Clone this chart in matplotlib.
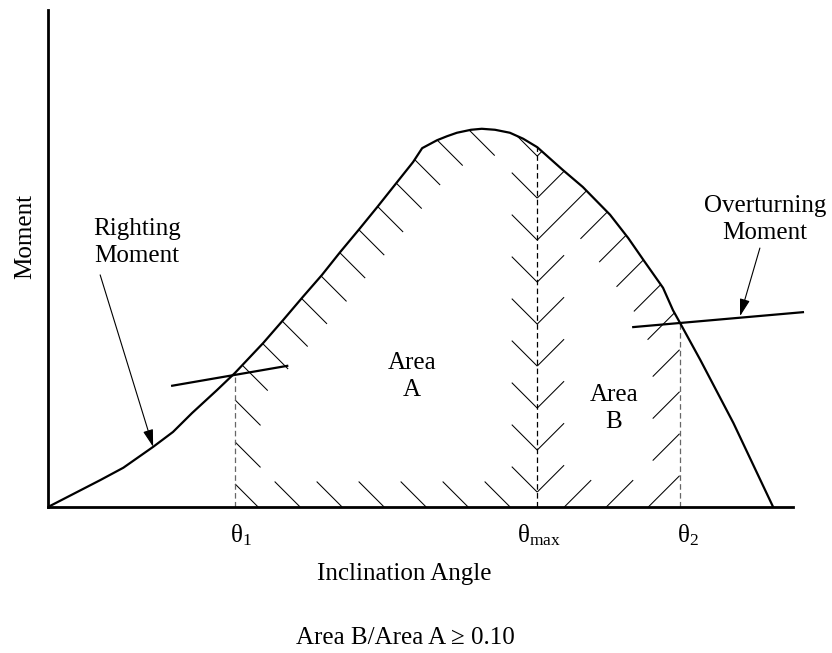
import numpy as np
import matplotlib
matplotlib.use("Agg")
import matplotlib.pyplot as plt
from matplotlib.collections import LineCollection

# ---------------- data ----------------
# righting moment curve: inclination angle (deg) vs moment (arbitrary units)
angle = [0.0, 6.3, 9.1, 12.7, 15.1, 17.4, 20.4, 22.6, 26.0, 28.4, 30.8, 33.1,
         35.3, 37.5, 39.8, 41.9, 44.1, 45.2, 47.0, 48.2, 49.4, 51.1, 52.4,
         54.0, 55.8, 57.4, 59.1, 62.2, 64.6, 67.9, 70.1, 72.1, 74.3, 75.5,
         76.3, 78.8, 82.8, 87.6]
moment = [0.0, 5.4, 7.9, 12.1, 15.1, 18.9, 23.5, 27.0, 33.0, 37.6, 42.3, 46.7,
          51.3, 55.7, 60.4, 64.8, 69.4, 72.2, 73.8, 74.6, 75.3, 75.9, 76.1,
          75.9, 75.3, 74.1, 72.4, 67.8, 64.4, 58.8, 54.1, 49.3, 44.1, 39.6,
          37.2, 29.6, 16.9, 0.0]

theta_1 = 22.6
theta_max = 59.1
theta_2 = 76.3

# overturning (heeling) moment line pieces
heel1_angle = [15.0, 28.9]
heel1_moment = [24.4, 28.4]
heel2_angle = [70.7, 91.2]
heel2_moment = [36.2, 39.2]

# ---------------- style ----------------
plt.rcParams['font.family'] = ['Liberation Serif', 'DejaVu Serif']
plt.rcParams['mathtext.fontset'] = 'custom'
plt.rcParams['mathtext.rm'] = 'Liberation Serif'
plt.rcParams['mathtext.it'] = 'Liberation Serif:italic'
plt.rcParams['lines.scale_dashes'] = False

W, H = 832, 653
fig = plt.figure(figsize=(W / 100, H / 100), dpi=100)
ax = fig.add_axes([48 / W, (H - 507) / H, 745 / W, 497 / H])
ax.set_xlim(0, 90)
ax.set_ylim(0, 100)
ax.set_xticks([])
ax.set_yticks([])
for s in ['top', 'right']:
    ax.spines[s].set_visible(False)
for s in ['left', 'bottom']:
    ax.spines[s].set_linewidth(2.0)

FS = 18
LS = 1.3


def fx(px):
    return px / W


def fy(py):
    return 1 - py / H


# ---------------- hatching ----------------
def hatch_segments(poly, direction, anchor, spacing_px, length_px):
    P = ax.transData.transform(np.asarray(poly))
    A = ax.transData.transform([anchor])[0]
    d = np.asarray(direction, float)
    d = d / np.linalg.norm(d)
    n = np.array([-d[1], d[0]])
    sp = spacing_px / np.sqrt(2)
    pn = P @ n
    c0 = A @ n
    kmin = int(np.floor((pn.min() - c0) / sp)) - 1
    kmax = int(np.ceil((pn.max() - c0) / sp)) + 1
    Pc = np.vstack([P, P[:1]])
    segs = []
    for k in range(kmin, kmax + 1):
        c = c0 + k * sp
        ts = []
        for i in range(len(P)):
            p0, p1 = Pc[i], Pc[i + 1]
            s0 = p0 @ n - c
            s1 = p1 @ n - c
            if (s0 > 0) != (s1 > 0):
                q = p0 + (p1 - p0) * s0 / (s0 - s1)
                ts.append(q @ d)
        ts.sort()
        for a, b in zip(ts[0::2], ts[1::2]):
            if b - a <= 2 * length_px:
                parts = [(a, b)]
            else:
                parts = [(a, a + length_px), (b - length_px, b)]
            for t0, t1 in parts:
                segs.append(np.array([c * n + t0 * d, c * n + t1 * d]))
    inv = ax.transData.inverted()
    return [inv.transform(s) for s in segs]


def region(a0, a1):
    ang = np.asarray(angle)
    mom = np.asarray(moment)
    inside = (ang > a0) & (ang < a1)
    pts = [(a0, 0.0), (a0, np.interp(a0, ang, mom))]
    pts += list(zip(ang[inside], mom[inside]))
    pts += [(a1, np.interp(a1, ang, mom)), (a1, 0.0)]
    return pts


anchor = (theta_max, 3.0)
segA = hatch_segments(region(theta_1, theta_max), (1, -1), anchor, 42, 36)
segB = hatch_segments(region(theta_max, theta_2), (1, 1), anchor, 42, 38)
ax.add_collection(LineCollection(segA + segB, colors='black', linewidths=0.75))

# ---------------- curve, lines ----------------
ax.plot(angle, moment, color='black', lw=1.6, solid_joinstyle='round', zorder=5)

m1 = np.interp(theta_1, angle, moment)
mm = np.interp(theta_max, angle, moment)
m2 = np.interp(theta_2, angle, moment)
ax.plot([theta_1, theta_1], [0, m1], color='#666666', lw=0.9, dashes=(4, 2.4))
ax.plot([theta_max, theta_max], [0, mm], color='black', lw=0.9, dashes=(4, 2.4))
ax.plot([theta_2, theta_2], [0, m2], color='#666666', lw=0.9, dashes=(4, 2.4))

ax.plot(heel1_angle, heel1_moment, color='black', lw=1.6, zorder=6)
ax.plot(heel2_angle, heel2_moment, color='black', lw=1.6, zorder=6, clip_on=False)

arrow = dict(arrowstyle='-|>,head_length=0.75,head_width=0.22', color='black',
             lw=0.8, shrinkA=0, shrinkB=0, mutation_scale=14)
ax.annotate('', xy=(12.7, 12.1), xytext=(6.3, 46.7), arrowprops=arrow,
            annotation_clip=False)
ax.annotate('', xy=(83.6, 38.4), xytext=(86.0, 52.1), arrowprops=arrow,
            annotation_clip=False)

# ---------------- texts ----------------
fig.text(fx(31), fy(237), 'Moment', rotation=90, ha='center', va='baseline',
         rotation_mode='anchor', fontsize=FS)
fig.text(fx(404), fy(580), 'Inclination Angle', ha='center', va='baseline', fontsize=FS)
fig.text(fx(405), fy(644), 'Area B/Area A \u2265 0.10', ha='center', va='baseline', fontsize=FS)

fig.text(fx(241), fy(542), 'θ$_{1}$', ha='center', va='baseline', fontsize=FS)
fig.text(fx(539), fy(542), 'θ$_{\\mathrm{max}}$', ha='center', va='baseline', fontsize=FS)
fig.text(fx(688), fy(542), 'θ$_{2}$', ha='center', va='baseline', fontsize=FS)

# two-line labels: y is the baseline of the last line
fig.text(fx(137), fy(262), 'Righting\nMoment', ha='center', va='baseline',
         multialignment='center', fontsize=FS, linespacing=LS)
fig.text(fx(765), fy(239), 'Overturning\nMoment', ha='center', va='baseline',
         multialignment='center', fontsize=FS, linespacing=LS)
fig.text(fx(412), fy(396), 'Area\nA', ha='center', va='baseline',
         multialignment='center', fontsize=FS, linespacing=LS)
fig.text(fx(614), fy(428), 'Area\nB', ha='center', va='baseline',
         multialignment='center', fontsize=FS, linespacing=LS)

fig.savefig('out.png', dpi=100)
